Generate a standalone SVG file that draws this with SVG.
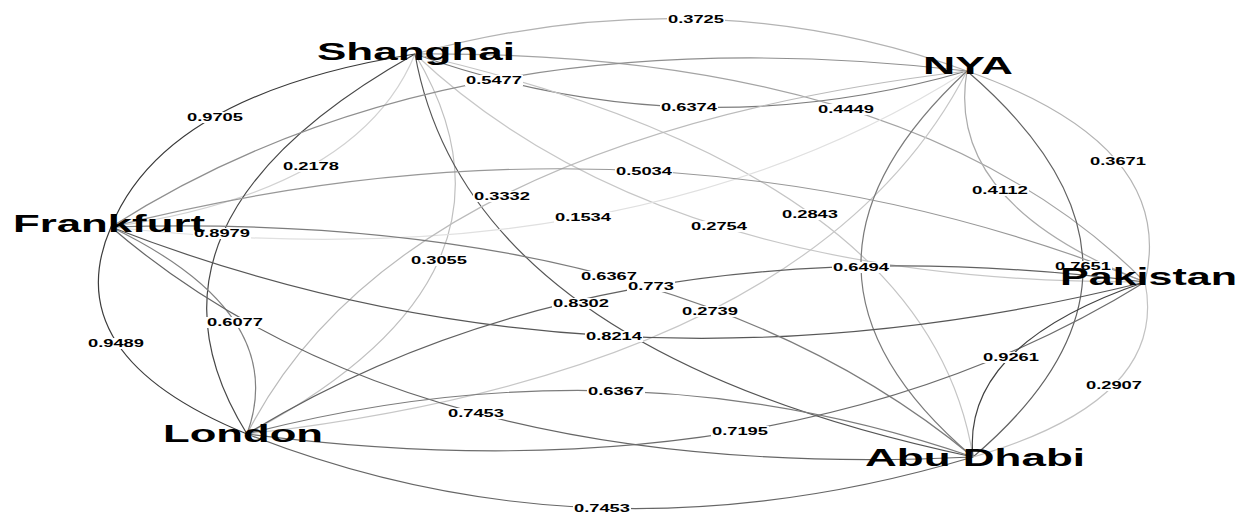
<svg xmlns="http://www.w3.org/2000/svg" width="1247" height="513" viewBox="0 0 1247 513">
<style>
.e{fill:none;stroke-width:1.2}
.lb{fill:#fff}
.lt{font-family:"Liberation Sans",Arial,sans-serif;font-weight:bold;font-size:11px;fill:#000}
.nt{font-family:"Liberation Sans",Arial,sans-serif;font-weight:bold;font-size:24px;fill:#000}
</style>
<rect width="1247" height="513" fill="#fff"/>
<g id="edges">
<path class="e" stroke="#b3b3b3" d="M415,54 Q703,-24.5 967,71"/>
<path class="e" stroke="#7c7c7c" d="M415,54 Q687,151.5 967,71"/>
<path class="e" stroke="#383838" d="M415,54 Q165,93.5 111,227"/>
<path class="e" stroke="#d2d2d2" d="M415,54 Q359,191.5 111,227"/>
<path class="e" stroke="#a4a4a4" d="M415,54 Q914,50 1145,282"/>
<path class="e" stroke="#c7c7c7" d="M415,54 Q658,284 1145,282"/>
<path class="e" stroke="#474747" d="M415,54 Q115,222 247,434"/>
<path class="e" stroke="#c0c0c0" d="M415,54 Q547,276 247,434"/>
<path class="e" stroke="#c5c5c5" d="M415,54 Q928,172.5 973,457"/>
<path class="e" stroke="#555555" d="M415,54 Q468,350.5 973,457"/>
<path class="e" stroke="#8f8f8f" d="M967,71 Q449,11 111,227"/>
<path class="e" stroke="#e0e0e0" d="M967,71 Q629,285 111,227"/>
<path class="e" stroke="#b4b4b4" d="M967,71 Q1178,145.5 1145,282"/>
<path class="e" stroke="#ababab" d="M967,71 Q944,203.5 1145,282"/>
<path class="e" stroke="#bbbbbb" d="M967,71 Q397,139.5 247,434"/>
<path class="e" stroke="#c7c7c7" d="M967,71 Q813,369.5 247,434"/>
<path class="e" stroke="#7a7a7a" d="M967,71 Q752,270 973,457"/>
<path class="e" stroke="#626262" d="M967,71 Q1196,268 973,457"/>
<path class="e" stroke="#989898" d="M111,227 Q660,87.5 1145,282"/>
<path class="e" stroke="#575757" d="M111,227 Q600,417.5 1145,282"/>
<path class="e" stroke="#828282" d="M111,227 Q291,313.5 247,434"/>
<path class="e" stroke="#3c3c3c" d="M111,227 Q55,355.5 247,434"/>
<path class="e" stroke="#7c7c7c" d="M111,227 Q676,210 973,457"/>
<path class="e" stroke="#666666" d="M111,227 Q410,484 973,457"/>
<path class="e" stroke="#616161" d="M1145,282 Q606,214 247,434"/>
<path class="e" stroke="#6c6c6c" d="M1145,282 Q786,504 247,434"/>
<path class="e" stroke="#414141" d="M1145,282 Q961,344.5 973,457"/>
<path class="e" stroke="#c3c3c3" d="M1145,282 Q1169,400.5 973,457"/>
<path class="e" stroke="#7c7c7c" d="M247,434 Q622,336.5 973,457"/>
<path class="e" stroke="#666666" d="M247,434 Q594,570.5 973,457"/>
</g>
<g id="edge-labels">
<rect class="lb" x="667" y="14" width="58" height="11"/><text class="lt" x="668" y="23" textLength="56" lengthAdjust="spacingAndGlyphs">0.3725</text>
<rect class="lb" x="465" y="75" width="58" height="11"/><text class="lt" x="466" y="84" textLength="56" lengthAdjust="spacingAndGlyphs">0.5477</text>
<rect class="lb" x="660" y="102" width="58" height="11"/><text class="lt" x="661" y="111" textLength="56" lengthAdjust="spacingAndGlyphs">0.6374</text>
<rect class="lb" x="817" y="104" width="58" height="11"/><text class="lt" x="818" y="113" textLength="56" lengthAdjust="spacingAndGlyphs">0.4449</text>
<rect class="lb" x="186" y="112" width="58" height="11"/><text class="lt" x="187" y="121" textLength="56" lengthAdjust="spacingAndGlyphs">0.9705</text>
<rect class="lb" x="282" y="161" width="58" height="11"/><text class="lt" x="283" y="170" textLength="56" lengthAdjust="spacingAndGlyphs">0.2178</text>
<rect class="lb" x="193" y="228" width="58" height="11"/><text class="lt" x="194" y="237" textLength="56" lengthAdjust="spacingAndGlyphs">0.8979</text>
<rect class="lb" x="615" y="166" width="58" height="11"/><text class="lt" x="616" y="175" textLength="56" lengthAdjust="spacingAndGlyphs">0.5034</text>
<rect class="lb" x="473" y="191" width="58" height="11"/><text class="lt" x="474" y="200" textLength="56" lengthAdjust="spacingAndGlyphs">0.3332</text>
<rect class="lb" x="554" y="212" width="58" height="11"/><text class="lt" x="555" y="221" textLength="56" lengthAdjust="spacingAndGlyphs">0.1534</text>
<rect class="lb" x="690" y="221" width="58" height="11"/><text class="lt" x="691" y="230" textLength="56" lengthAdjust="spacingAndGlyphs">0.2754</text>
<rect class="lb" x="781" y="209" width="58" height="11"/><text class="lt" x="782" y="218" textLength="56" lengthAdjust="spacingAndGlyphs">0.2843</text>
<rect class="lb" x="410" y="255" width="58" height="11"/><text class="lt" x="411" y="264" textLength="56" lengthAdjust="spacingAndGlyphs">0.3055</text>
<rect class="lb" x="580" y="271" width="58" height="11"/><text class="lt" x="581" y="280" textLength="56" lengthAdjust="spacingAndGlyphs">0.6367</text>
<rect class="lb" x="627" y="281" width="48" height="11"/><text class="lt" x="628" y="290" textLength="46" lengthAdjust="spacingAndGlyphs">0.773</text>
<rect class="lb" x="552" y="298" width="58" height="11"/><text class="lt" x="553" y="307" textLength="56" lengthAdjust="spacingAndGlyphs">0.8302</text>
<rect class="lb" x="1089" y="156" width="58" height="11"/><text class="lt" x="1090" y="165" textLength="56" lengthAdjust="spacingAndGlyphs">0.3671</text>
<rect class="lb" x="971" y="185" width="58" height="11"/><text class="lt" x="972" y="194" textLength="56" lengthAdjust="spacingAndGlyphs">0.4112</text>
<rect class="lb" x="832" y="262" width="58" height="11"/><text class="lt" x="833" y="271" textLength="56" lengthAdjust="spacingAndGlyphs">0.6494</text>
<rect class="lb" x="1054" y="261" width="58" height="11"/><text class="lt" x="1055" y="270" textLength="56" lengthAdjust="spacingAndGlyphs">0.7651</text>
<rect class="lb" x="206" y="317" width="58" height="11"/><text class="lt" x="207" y="326" textLength="56" lengthAdjust="spacingAndGlyphs">0.6077</text>
<rect class="lb" x="87" y="338" width="58" height="11"/><text class="lt" x="88" y="347" textLength="56" lengthAdjust="spacingAndGlyphs">0.9489</text>
<rect class="lb" x="681" y="306" width="58" height="11"/><text class="lt" x="682" y="315" textLength="56" lengthAdjust="spacingAndGlyphs">0.2739</text>
<rect class="lb" x="585" y="331" width="58" height="11"/><text class="lt" x="586" y="340" textLength="56" lengthAdjust="spacingAndGlyphs">0.8214</text>
<rect class="lb" x="587" y="386" width="58" height="11"/><text class="lt" x="588" y="395" textLength="56" lengthAdjust="spacingAndGlyphs">0.6367</text>
<rect class="lb" x="447" y="408" width="58" height="11"/><text class="lt" x="448" y="417" textLength="56" lengthAdjust="spacingAndGlyphs">0.7453</text>
<rect class="lb" x="711" y="426" width="58" height="11"/><text class="lt" x="712" y="435" textLength="56" lengthAdjust="spacingAndGlyphs">0.7195</text>
<rect class="lb" x="573" y="503" width="58" height="11"/><text class="lt" x="574" y="512" textLength="56" lengthAdjust="spacingAndGlyphs">0.7453</text>
<rect class="lb" x="982" y="352" width="58" height="11"/><text class="lt" x="983" y="361" textLength="56" lengthAdjust="spacingAndGlyphs">0.9261</text>
<rect class="lb" x="1085" y="380" width="58" height="11"/><text class="lt" x="1086" y="389" textLength="56" lengthAdjust="spacingAndGlyphs">0.2907</text>
</g>
<g id="node-shanghai"><text class="nt" x="317" y="60" textLength="198" lengthAdjust="spacingAndGlyphs">Shanghai</text></g>
<g id="node-nya"><text class="nt" x="923" y="74" textLength="90" lengthAdjust="spacingAndGlyphs">NYA</text></g>
<g id="node-frankfurt"><text class="nt" x="13" y="232" textLength="192" lengthAdjust="spacingAndGlyphs">Frankfurt</text></g>
<g id="node-pakistan"><text class="nt" x="1060" y="285" textLength="177" lengthAdjust="spacingAndGlyphs">Pakistan</text></g>
<g id="node-london"><text class="nt" x="163" y="442" textLength="160" lengthAdjust="spacingAndGlyphs">London</text></g>
<g id="node-abudhabi"><text class="nt" x="865" y="466" textLength="220" lengthAdjust="spacingAndGlyphs">Abu Dhabi</text></g>
</svg>
